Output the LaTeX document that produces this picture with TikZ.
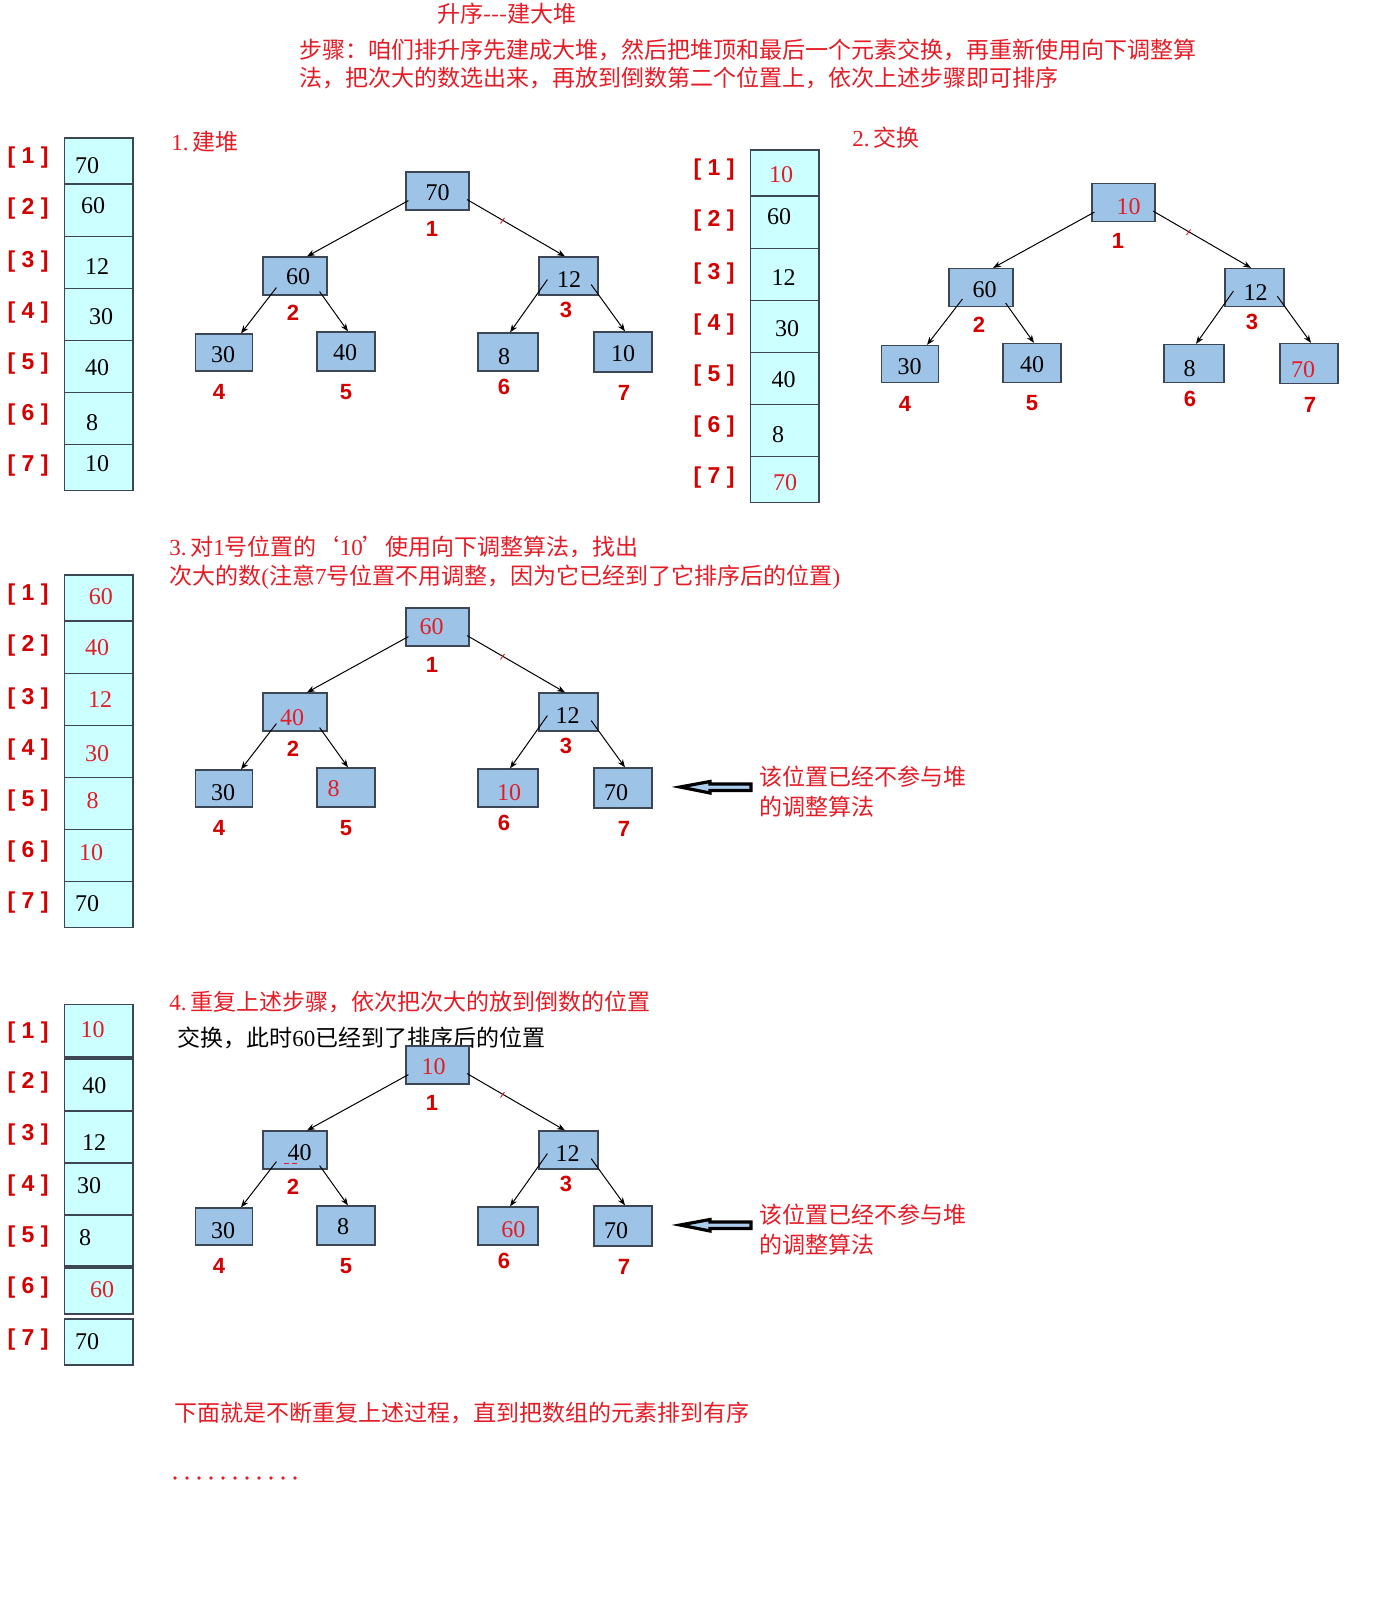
\documentclass[tikz,border=0pt]{standalone}
\usepackage{fontspec}
\setmainfont{Liberation Serif}
\newfontfamily\cjk{Noto Sans CJK SC}
\newfontfamily\labfont{Liberation Sans}
\usetikzlibrary{calc,arrows.meta}
\definecolor{txtred}{RGB}{228,28,38}
\definecolor{labred}{RGB}{212,0,0}
\definecolor{cellfill}{RGB}{204,255,255}
\definecolor{nodefill}{RGB}{157,195,230}
\definecolor{bordergray}{RGB}{60,70,85}
\definecolor{arrowfill}{RGB}{170,205,238}
\newcommand\rmd[1]{{\rmfamily #1}}
\tikzset{
 hbox/.style={draw=bordergray,fill=nodefill,line width=0.6pt,inner sep=0pt,rectangle},
 num/.style={font=\fontsize{12pt}{14pt}\selectfont,inner sep=0pt},
 idx/.style={font=\labfont\bfseries\fontsize{11pt}{13pt}\selectfont,text=labred,inner sep=0pt},
 arr/.style={font=\labfont\bfseries\fontsize{11.5pt}{13pt}\selectfont,text=labred,inner sep=0pt},
 cjkt/.style={font=\cjk\fontsize{11.5pt}{14pt}\selectfont,text=txtred,inner sep=0pt,anchor=west},
 cell/.style={draw=bordergray,fill=cellfill,line width=0.6pt},
 conn/.style={draw=black,line width=0.5pt,-{Stealth[length=4pt,width=3pt]}},
 barrow/.style={draw=black,fill=arrowfill,line width=1.6pt,line join=miter},
}
% tree frame: prefix, dx, dy
\newcommand\TreeFrame[3]{%
 \node[hbox,minimum width=31.5pt,minimum height=19pt] (#1a) at (437.5+#2,191+#3) {};
 \node[hbox,minimum width=32pt,minimum height=19pt] (#1b) at (295+#2,276+#3) {};
 \node[hbox,minimum width=29.5pt,minimum height=19pt] (#1c) at (568.5+#2,276+#3) {};
 \node[hbox,minimum width=28.5pt,minimum height=18.5pt] (#1d) at (224+#2,352.5+#3) {};
 \node[hbox,minimum width=29pt,minimum height=19.5pt] (#1e) at (346+#2,351.5+#3) {};
 \node[hbox,minimum width=30pt,minimum height=19pt] (#1f) at (508+#2,352+#3) {};
 \node[hbox,minimum width=29pt,minimum height=20pt] (#1g) at (623+#2,352+#3) {};
 \draw[conn] ($(#1a.south west)+(3,-10)$) -- ($(#1b.north)+(12,0)$);
 \draw[conn] ($(#1a.south east)+(-2.5,-11)$) -- ($(#1c.north)+(-3.5,0)$);
 \draw[conn] ($(#1b.south west)+(14,-8)$) -- ($(#1d.north)+(17,0)$);
 \draw[conn] ($(#1b.south east)+(-8,-4)$) -- ($(#1e.north)+(2,0)$);
 \draw[conn] ($(#1c.south west)+(9,-16)$) -- ($(#1f.north)+(2,0)$);
 \draw[conn] ($(#1c.south east)+(-7.4,-11)$) -- ($(#1g.north)+(2,0)$);
 \draw[txtred,line width=0.45pt] (500.5+#2,223.5+#3) -- (504.5+#2,218+#3);
 \node[idx] (#1i1) at (432+#2,229+#3) {1};
 \node[idx] (#1i2) at (293+#2,313+#3) {2};
 \node[idx] (#1i3) at (566+#2,310+#3) {3};
 \node[idx] (#1i4) at (219+#2,392+#3) {4};
 \node[idx] (#1i5) at (346+#2,392+#3) {5};
 \node[idx] (#1i6) at (504+#2,387+#3) {6};
 \node[idx] (#1i7) at (624+#2,393+#3) {7};
}
% tree value: prefix, node letter, dx, dy, content
\newcommand\TV[5]{\node[num] (#1#2v) at ($(#1#2)+(#3,#4)$) {#5};}
% contiguous array cells: prefix, dx, dy
\newcommand\ArrCells[3]{%
 \foreach \ya/\yb in {138/184,184/236.5,236.5/288.5,288.5/340.5,340.5/392.5,392.5/444.5,444.5/490.5}
   \draw[cell] (64.7+#2,\ya+#3) rectangle (133+#2,\yb+#3);
 \foreach \k/\yl in {1/158,2/209,3/262,4/313,5/364,6/415,7/466}
   \node[arr] (#1l\k) at (28+#2,\yl+#3) {[ \k\ ]};
}
% block arrow and note: prefix, dy
\newcommand\SideNote[2]{%
 \coordinate (#1tip) at (680,351+#2);
 \draw[barrow] (#1tip) -- (710,345.5+#2) -- (710,348+#2) -- (751,348+#2) -- (751,354.5+#2) -- (710,354.5+#2) -- (710,357+#2) -- cycle;
 \node[cjkt] (#1n1) at (759,340.5+#2) {该位置已经不参与堆};
 \node[cjkt] (#1n2) at (759,370.5+#2) {的调整算法};
}
\begin{document}
\begin{tikzpicture}[x=0.5pt,y=-0.5pt]
\useasboundingbox[fill=white] (0,0) rectangle (1400,1598);

% texts
\node[cjkt] (title) at (437,14) {升序-{}-{}-建大堆};
\node[cjkt] (step1) at (299,50) {步骤：咱们排升序先建成大堆，然后把堆顶和最后一个元素交换，再重新使用向下调整算};
\node[cjkt] (step2) at (299,78) {法，把次大的数选出来，再放到倒数第二个位置上，依次上述步骤即可排序};
\node[cjkt] (h1) at (171,142) {\rmd{1.}\,建堆};
\node[cjkt] (h2) at (852,138) {\rmd{2.}\,交换};
\node[cjkt] (h3a) at (169,547) {\rmd{3.}\,对\rmd{1}号位置的‘\rmd{10}’使用向下调整算法，找出};
\node[cjkt] (h3b) at (169,577) {次大的数\rmd{(}注意\rmd{7}号位置不用调整，因为它已经到了它排序后的位置\rmd{)}};
\node[cjkt] (h4a) at (169,1002) {\rmd{4.}\,重复上述步骤，依次把次大的放到倒数的位置};
\node[cjkt,text=black] (h4b) at (177,1038) {交换，此时\rmd{60}已经到了排序后的位置};
\node[cjkt] (tail) at (174,1413) {下面就是不断重复上述过程，直到把数组的元素排到有序};
\foreach \i in {0,...,10} \fill[txtred] (175+12*\i,1478) circle (1.8);

% arrays 1-3
\ArrCells{a1}{0}{0}
\ArrCells{a2}{686}{12}
\ArrCells{a3}{0}{437}
\node[num] (a1v1) at (87,166) {70};
\node[num] (a1v2) at (93,206) {60};
\node[num] (a1v3) at (97,267) {12};
\node[num] (a1v4) at (101,317) {30};
\node[num] (a1v5) at (97,368) {40};
\node[num] (a1v6) at (92,423) {8};
\node[num] (a1v7) at (97,464) {10};

\node[num,text=txtred] (a2v1) at (781,175) {10};
\node[num] (a2v2) at (779,217) {60};
\node[num] (a2v3) at (783.6,278) {12};
\node[num] (a2v4) at (787,329) {30};
\node[num] (a2v5) at (783.6,380) {40};
\node[num] (a2v6) at (778,435) {8};
\node[num,text=txtred] (a2v7) at (785,483) {70};

\node[num,text=txtred] (a3v1) at (100.8,596.7) {60};
\node[num,text=txtred] (a3v2) at (97,648) {40};
\node[num,text=txtred] (a3v3) at (100,700) {12};
\node[num,text=txtred] (a3v4) at (97,754) {30};
\node[num,text=txtred] (a3v5) at (92.5,801) {8};
\node[num,text=txtred] (a3v6) at (91,853) {10};
\node[num] (a3v7) at (87,904) {70};

% array 4 (separate cells)
\foreach \ya/\yb in {1004.5/1057,1059/1111,1111/1163,1163/1215,1215/1266,1268/1314,1319/1365}
  \draw[cell] (64.7,\ya) rectangle (133,\yb);
\foreach \k/\yl in {1/1033,2/1083,3/1135,4/1186,5/1237,6/1288,7/1340}
  \node[arr] (a4l\k) at (28,\yl) {[ \k\ ]};
\node[num,text=txtred] (a4v1) at (92.5,1030) {10};
\node[num] (a4v2) at (94.4,1086) {40};
\node[num] (a4v3) at (94,1142.7) {12};
\node[num] (a4v4) at (89,1186) {30};
\node[num] (a4v5) at (85,1237.7) {8};
\node[num,text=txtred] (a4v6) at (102,1290) {60};
\node[num] (a4v7) at (87,1341.7) {70};

% tree 1
\TreeFrame{t1}{0}{0}
\TV{t1}{a}{0}{2}{70}
\TV{t1}{b}{3}{1}{60}
\TV{t1}{c}{0.5}{4}{12}
\TV{t1}{d}{-1}{2.5}{30}
\TV{t1}{e}{-1}{1.5}{40}
\TV{t1}{f}{-4}{4.5}{8}
\TV{t1}{g}{0}{2}{10}

% tree 2
\TreeFrame{t2}{686}{11.5}
\TV{t2}{a}{5}{4}{\color{txtred}10}
\TV{t2}{b}{3.5}{2}{60}
\TV{t2}{c}{1}{4.7}{12}
\TV{t2}{d}{-0.5}{2.3}{30}
\TV{t2}{e}{0}{2}{40}
\TV{t2}{f}{-4.5}{5}{8}
\TV{t2}{g}{-6}{6.5}{\color{txtred}70}

% tree 3
\TreeFrame{t3}{0}{436}
\TV{t3}{a}{-6}{0}{\color{txtred}60}
\TV{t3}{b}{-3}{6}{\color{txtred}40}
\TV{t3}{c}{-1}{4}{12}
\TV{t3}{d}{-1}{4.5}{30}
\TV{t3}{e}{-12.5}{1.5}{\color{txtred}8}
\TV{t3}{f}{1}{4.7}{\color{txtred}10}
\TV{t3}{g}{-7}{5}{70}
\SideNote{s3}{436}

% tree 4
\TreeFrame{t4}{0}{874}
\TV{t4}{a}{-4}{2}{\color{txtred}10}
\TV{t4}{b}{4.7}{2.7}{40}
\TV{t4}{c}{-1}{4}{12}
\TV{t4}{d}{-1}{4}{30}
\TV{t4}{e}{-3}{1}{8}
\TV{t4}{f}{5.4}{4}{\color{txtred}60}
\TV{t4}{g}{-7}{4.7}{70}
\draw[txtred,line width=0.4pt,dash pattern=on 2.5pt off 1.5pt] ($(t4bv.south west)+(-3,2)$) -- ($(t4bv.south west)+(12,2)$);
\SideNote{s4}{874}
\end{tikzpicture}
\end{document}
